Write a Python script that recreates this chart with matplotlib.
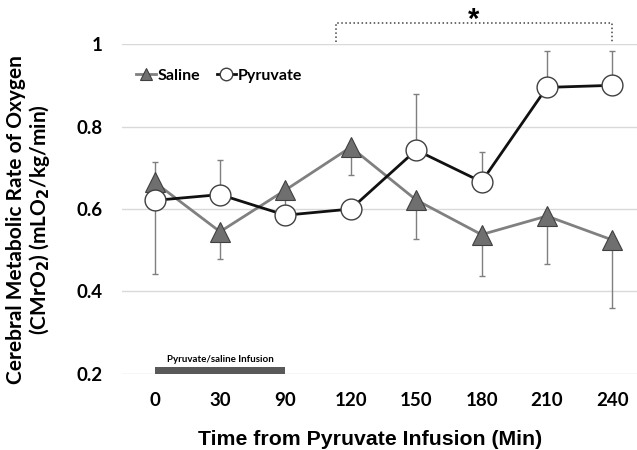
import matplotlib
matplotlib.use("Agg")
import matplotlib.pyplot as plt
import numpy as np

# Data
time_labels = ["0", "30", "90", "120", "150", "180", "210", "240"]
saline = [0.665, 0.545, 0.646, 0.750, 0.622, 0.538, 0.583, 0.525]
pyruvate = [0.621, 0.635, 0.585, 0.600, 0.743, 0.666, 0.895, 0.900]

# error bar ends (only one direction shown per point)
saline_err_low = [0.0, 0.065, 0.04, 0.068, 0.095, 0.101, 0.116, 0.165]
saline_err_high = [0.050, 0.0, 0.0, 0.0, 0.0, 0.0, 0.0, 0.0]
pyruvate_err_low = [0.179, 0.0, 0.0, 0.0, 0.0, 0.0, 0.0, 0.0]
pyruvate_err_high = [0.0, 0.083, 0.0, 0.0, 0.137, 0.072, 0.089, 0.084]

infusion_start, infusion_end = 0, 2   # category index 0 .. 90 min
bracket_start, bracket_end = 2.77, 7.0

calibri_like = "Lato"
arial_like = "Liberation Sans"

fig = plt.figure(figsize=(6.37, 4.5), dpi=100)
ax = fig.add_axes([0.1915, 0.169, 0.821, 0.733])

x = np.arange(len(time_labels))

# gridlines
ax.set_ylim(0.2, 1.0)
ax.set_xlim(-0.5, len(time_labels) - 0.5)
ax.set_yticks([0.2, 0.4, 0.6, 0.8, 1.0])
ax.set_yticklabels(["0.2", "0.4", "0.6", "0.8", "1"])
ax.grid(axis="y", color="#d9d9d9", linewidth=1.0)
ax.set_axisbelow(True)
for s in ax.spines.values():
    s.set_visible(False)
ax.tick_params(length=0)
ax.set_xticks(x)
ax.set_xticklabels(time_labels)
for lab in ax.get_xticklabels() + ax.get_yticklabels():
    lab.set_fontfamily(calibri_like)
    lab.set_fontweight("bold")
    lab.set_fontsize(13.5)
ax.tick_params(axis="x", pad=13)
ax.tick_params(axis="y", pad=14)

# error bars
ax.errorbar(x, saline, yerr=[saline_err_low, saline_err_high], fmt="none",
            ecolor="#7f7f7f", elinewidth=1.0, capsize=2, capthick=1.0, zorder=2)
ax.errorbar(x, pyruvate, yerr=[pyruvate_err_low, pyruvate_err_high], fmt="none",
            ecolor="#7f7f7f", elinewidth=1.0, capsize=2, capthick=1.0, zorder=2)

# series
ax.plot(x, saline, color="#808080", linewidth=2.0, marker="^", markersize=14,
        markerfacecolor="#6f6f6f", markeredgecolor="#404040", markeredgewidth=0.8,
        label="Saline", zorder=3)
ax.plot(x, pyruvate, color="#111111", linewidth=2.0, marker="o", markersize=15,
        markerfacecolor="white", markeredgecolor="#404040", markeredgewidth=1.0,
        label="Pyruvate", zorder=4)

# infusion bar
ax.fill_between([infusion_start, infusion_end], 0.2, 0.217, color="#595959",
                linewidth=0, zorder=3, clip_on=False)
ax.text((infusion_start + infusion_end) / 2, 0.225, "Pyruvate/saline Infusion",
        ha="center", va="bottom", fontsize=7, fontweight="bold",
        fontfamily=calibri_like)

# significance bracket
ax.plot([bracket_start, bracket_start, bracket_end, bracket_end],
        [1.005, 1.051, 1.051, 1.005], color="#444444", linestyle=":",
        linewidth=1.1, clip_on=False)
ax.text((bracket_start + bracket_end) / 2, 1.058, "*", ha="center", va="center",
        fontsize=21, fontweight="bold", fontfamily=arial_like)

leg = ax.legend(loc="upper left", bbox_to_anchor=(0.0, 0.97), ncol=2, frameon=False,
                handlelength=1.2, handletextpad=0.15, columnspacing=1.0,
                markerscale=0.6, prop={"family": calibri_like, "weight": "bold", "size": 11.5})

ax.set_xlabel("Time from Pyruvate Infusion (Min)", fontsize=15.3, fontweight="bold",
              fontfamily=arial_like)
ax.xaxis.set_label_coords(0.474, -0.17)
fig.text(0.0455, 0.511,
         "Cerebral Metabolic Rate of Oxygen\n(CMrO$_\\mathbf{2}$) (mLO$_\\mathbf{2}$/kg/min)",
         rotation=90, ha="center", va="center", fontsize=15, fontweight="bold",
         fontfamily=calibri_like, linespacing=1.05)

fig.savefig("out.png", dpi=100)
